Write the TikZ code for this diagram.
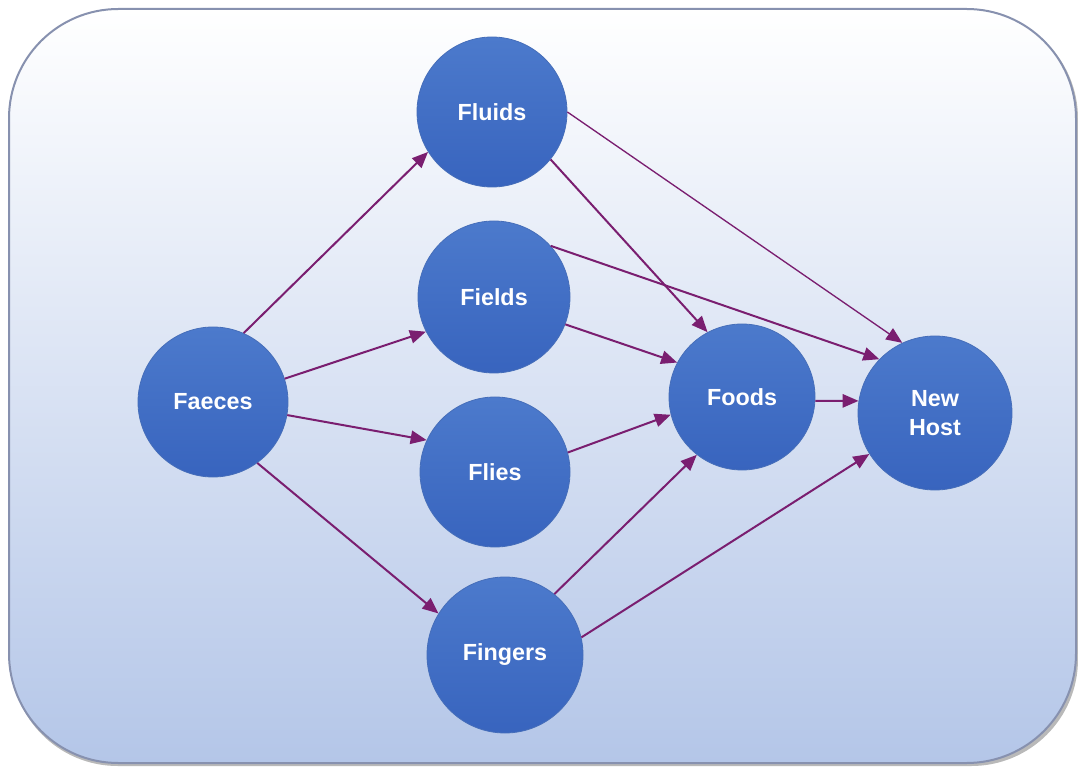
\documentclass[tikz,border=0pt]{standalone}
\usepackage{fontspec}
\setmainfont{Liberation Sans}
\usetikzlibrary{arrows.meta}
\definecolor{bgtop}{RGB}{255,255,255}
\definecolor{bgbot}{RGB}{180,198,232}
\definecolor{bgline}{RGB}{135,145,175}
\definecolor{ctop}{RGB}{76,122,204}
\definecolor{cbot}{RGB}{56,100,190}
\definecolor{cline}{RGB}{70,110,185}
\definecolor{arr}{RGB}{122,30,112}
\tikzset{
  blob/.style={circle, inner sep=0pt, top color=ctop, bottom color=cbot, draw=cline, line width=0.6pt,
    text=white, font=\fontsize{17.5}{22}\selectfont\bfseries, align=center},
  link/.style={draw=arr, line width=1.5pt, -{Triangle[length=12pt,width=10pt]}},
  thinlink/.style={draw=arr, line width=1pt, -{Triangle[length=12pt,width=10pt]}}
}
\begin{document}
\begin{tikzpicture}[x=0.75pt,y=-0.75pt]
\useasboundingbox (0,0) rectangle (1078,773);
% shadow and background
\fill[gray!55, rounded corners=80pt] (11,12) rectangle (1078,766);
\draw[bgline, line width=1.5pt, top color=bgtop, bottom color=bgbot, rounded corners=82pt] (9,9) rectangle (1076,763);
% nodes
\node[blob, minimum size=112.5pt] (faeces) at (213,402) {Faeces};
\node[blob, minimum size=112.5pt] (fluids) at (492,112) {Fluids};
\node[blob, minimum size=114pt] (fields) at (494,297) {Fields};
\node[blob, minimum size=112.5pt] (flies) at (495,472) {Flies};
\node[blob, minimum size=117pt] (fingers) at (505,655) {Fingers};
\node[blob, minimum size=109.5pt] (foods) at (742,397) {Foods};
\node[blob, minimum size=115.5pt] (host) at (935,413) {New\\Host};
% connectors
\draw[link] (faeces.66) -- (fluids.212);
\draw[link] (faeces.18) -- (fields.207);
\draw[link] (faeces.-10) -- (flies.155);
\draw[link] (faeces.-54) -- (fingers.148);
\draw[link] (fluids.-39) -- (foods.118);
\draw[thinlink] (fluids.0) -- (host.115);
\draw[link] (fields.-21) -- (foods.152);
\draw[link] (fields.42) -- (host.136);
\draw[link] (flies.15) -- (foods.194);
\draw[link] (foods.-3) -- (host.171);
\draw[link] (fingers.51) -- (foods.232);
\draw[link] (fingers.13) -- (host.212);
\end{tikzpicture}
\end{document}
